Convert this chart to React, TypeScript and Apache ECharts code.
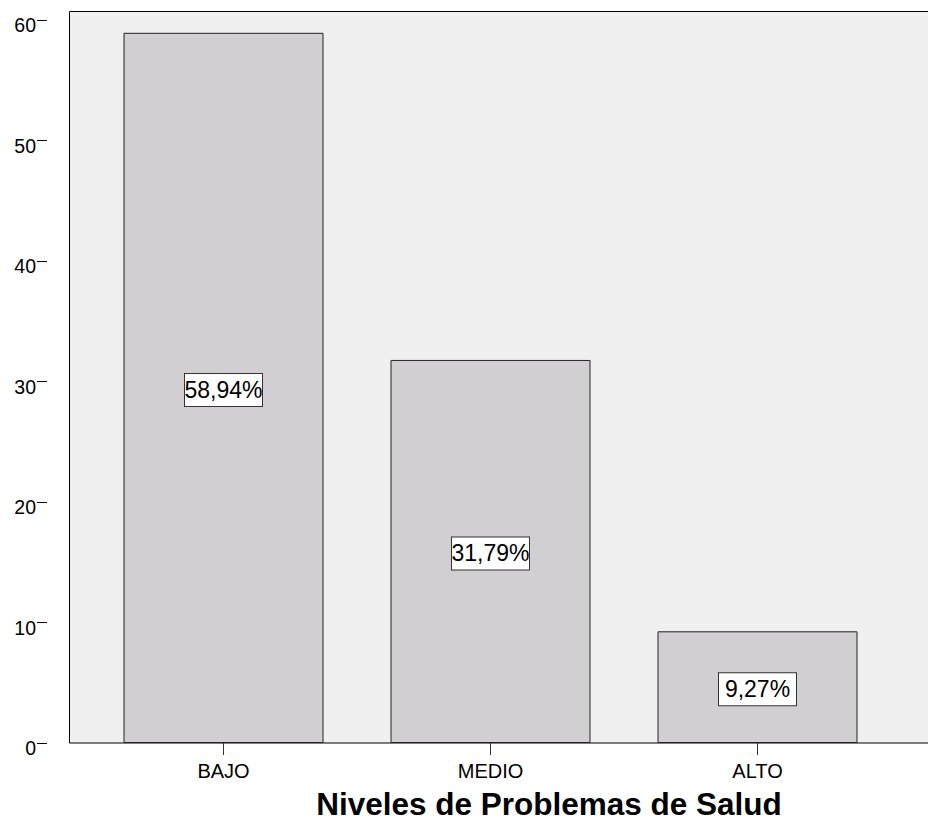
import React, { useEffect, useRef } from "react";
import * as echarts from "echarts";

const categories = ["BAJO", "MEDIO", "ALTO"];
const percentages = [58.94, 31.79, 9.27];
const yTicks = [0, 10, 20, 30, 40, 50, 60];
const axisTitle = "Niveles de Problemas de Salud";

const FONT = "'Liberation Sans', Arial, Helvetica, sans-serif";

export default function App() {
  const ref = useRef<HTMLDivElement>(null);

  useEffect(() => {
    if (!ref.current) return;
    const chart = echarts.init(ref.current, null, { renderer: "svg" });
    chart.setOption({
      animation: false,
      backgroundColor: "#ffffff",
      textStyle: { fontFamily: FONT },
      graphic: [
        {
          type: "rect",
          z: -10,
          shape: { x: 69.5, y: 11.5, width: 900, height: 731.5 },
          style: { fill: "#f0f0f0", stroke: "#000000", lineWidth: 1 },
        },
        {
          type: "text",
          x: 549,
          y: 804,
          style: {
            text: axisTitle,
            fontFamily: FONT,
            fontWeight: "bold",
            fontSize: 31.5,
            fill: "#000000",
            align: "center",
            verticalAlign: "middle",
          },
        },
      ],
      grid: { left: 90, width: 801, top: 11, bottom: 78, show: false },
      xAxis: {
        type: "category",
        data: categories,
        axisLine: { show: false },
        axisTick: {
          show: true,
          alignWithLabel: true,
          length: 12,
          lineStyle: { color: "#333333", width: 1 },
        },
        axisLabel: {
          fontSize: 20,
          color: "#000000",
          margin: 18,
          fontFamily: FONT,
        },
        splitLine: { show: false },
      },
      yAxis: {
        type: "value",
        min: 0,
        max: 60.75,
        interval: 10,
        offset: 43,
        axisLine: { show: false },
        axisTick: {
          show: true,
          length: 10,
          customValues: yTicks,
          lineStyle: { color: "#000000", width: 1 },
        },
        axisLabel: {
          fontSize: 19.5,
          color: "#000000",
          margin: 11,
          customValues: yTicks,
          verticalAlign: "top",
          lineHeight: 10,
          fontFamily: FONT,
        },
        splitLine: { show: false },
      },
      series: [
        {
          type: "bar",
          data: percentages,
          barWidth: 200,
          itemStyle: {
            color: "#d1cfd1",
            borderColor: "#222222",
            borderWidth: 1,
          },
          label: {
            show: true,
            position: "inside",
            offset: [0, 2],
            formatter: (p: any) =>
              Number(p.value).toFixed(2).replace(".", ",") + "%",
            fontSize: 23,
            lineHeight: 24,
            color: "#000000",
            fontFamily: FONT,
            backgroundColor: "#ffffff",
            borderColor: "#333333",
            borderWidth: 1,
            padding: [4, 4, 4, 4],
            width: 69,
            overflow: "none",
          },
        },
      ],
    });
    return () => chart.dispose();
  }, []);

  return (
    <div
      ref={ref}
      style={{ position: "absolute", left: 0, top: 0, width: 928, height: 821 }}
    />
  );
}
